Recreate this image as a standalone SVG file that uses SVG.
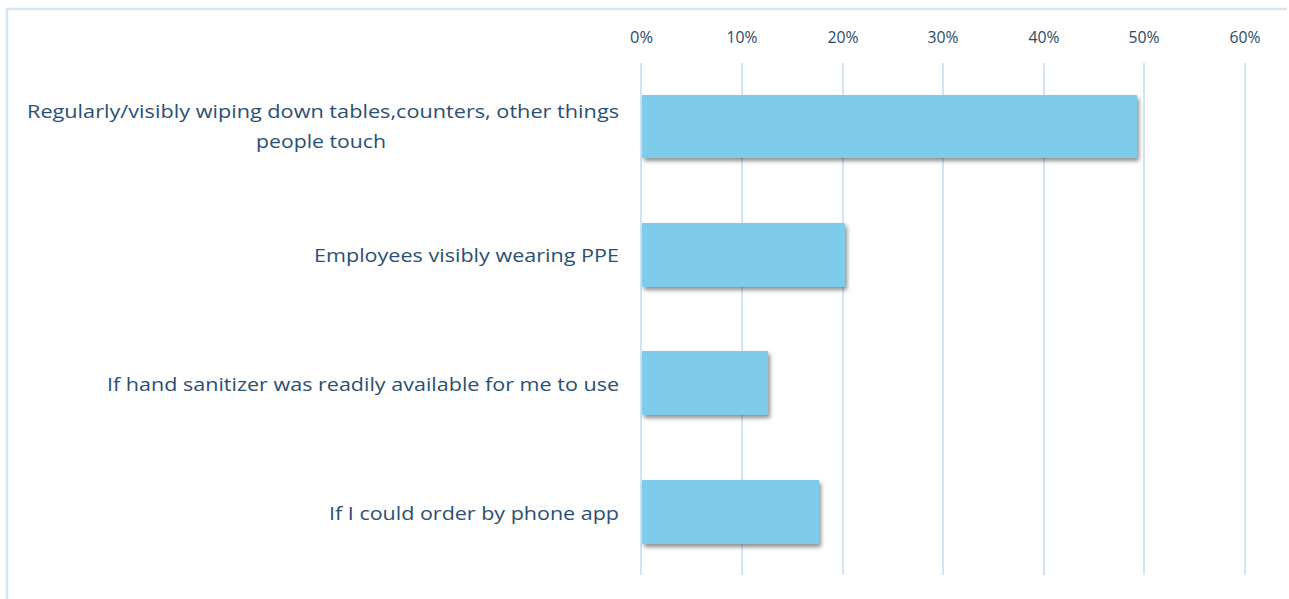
<svg xmlns="http://www.w3.org/2000/svg" width="1289" height="599" viewBox="0 0 1289 599">
<style>
.frame{fill:none;stroke:#d6e3f3;stroke-width:2.5}
.grid{stroke:#d6e3f4;stroke-width:2}
.bar{fill:#7ecbea;filter:url(#sh)}
.ax{font-family:"Open Sans","Liberation Sans",Arial,sans-serif;font-size:17px;fill:#2b4a66;text-anchor:middle}
.lb{font-family:"Open Sans","Liberation Sans",Arial,sans-serif;font-size:19px;fill:#2b4f72;text-anchor:end}
.c{text-anchor:middle}
</style>
<defs>
<filter id="sh" x="-5%" y="-20%" width="115%" height="160%">
<feGaussianBlur in="SourceAlpha" stdDeviation="2"/>
<feOffset dx="2" dy="3" result="b"/>
<feComponentTransfer><feFuncA type="linear" slope="0.45"/></feComponentTransfer>
<feMerge><feMergeNode/><feMergeNode in="SourceGraphic"/></feMerge>
</filter>
</defs>
<rect width="1289" height="599" fill="#ffffff"/>
<path class="frame" d="M7 599 V9 H1287"/>
<g id="axis">
<text class="ax" x="641.5" y="43" textLength="23" lengthAdjust="spacingAndGlyphs">0%</text>
<text class="ax" x="742" y="43" textLength="31" lengthAdjust="spacingAndGlyphs">10%</text>
<text class="ax" x="843" y="43" textLength="31" lengthAdjust="spacingAndGlyphs">20%</text>
<text class="ax" x="943" y="43" textLength="31" lengthAdjust="spacingAndGlyphs">30%</text>
<text class="ax" x="1044" y="43" textLength="31" lengthAdjust="spacingAndGlyphs">40%</text>
<text class="ax" x="1144" y="43" textLength="31" lengthAdjust="spacingAndGlyphs">50%</text>
<text class="ax" x="1245" y="43" textLength="31" lengthAdjust="spacingAndGlyphs">60%</text>
</g>
<g id="gridlines">
<line class="grid" x1="641" y1="63" x2="641" y2="575"/>
<line class="grid" x1="742" y1="63" x2="742" y2="575"/>
<line class="grid" x1="843" y1="63" x2="843" y2="575"/>
<line class="grid" x1="943" y1="63" x2="943" y2="575"/>
<line class="grid" x1="1044" y1="63" x2="1044" y2="575"/>
<line class="grid" x1="1144" y1="63" x2="1144" y2="575"/>
<line class="grid" x1="1245" y1="63" x2="1245" y2="575"/>
</g>
<g id="bar1">
<rect class="bar" x="642" y="95" width="495" height="63"/>
<text class="lb c" x="323" y="118" textLength="592" lengthAdjust="spacingAndGlyphs">Regularly/visibly wiping down tables,counters, other things</text>
<text class="lb c" x="321" y="148" textLength="130" lengthAdjust="spacingAndGlyphs">people touch</text>
</g>
<g id="bar2">
<rect class="bar" x="642" y="223" width="203" height="64"/>
<text class="lb" x="619" y="262" textLength="305" lengthAdjust="spacingAndGlyphs">Employees visibly wearing PPE</text>
</g>
<g id="bar3">
<rect class="bar" x="642" y="351" width="126" height="64"/>
<text class="lb" x="619" y="391" textLength="512" lengthAdjust="spacingAndGlyphs">If hand sanitizer was readily available for me to use</text>
</g>
<g id="bar4">
<rect class="bar" x="642" y="480" width="177" height="64"/>
<text class="lb" x="619" y="520" textLength="290" lengthAdjust="spacingAndGlyphs">If I could order by phone app</text>
</g>
</svg>
